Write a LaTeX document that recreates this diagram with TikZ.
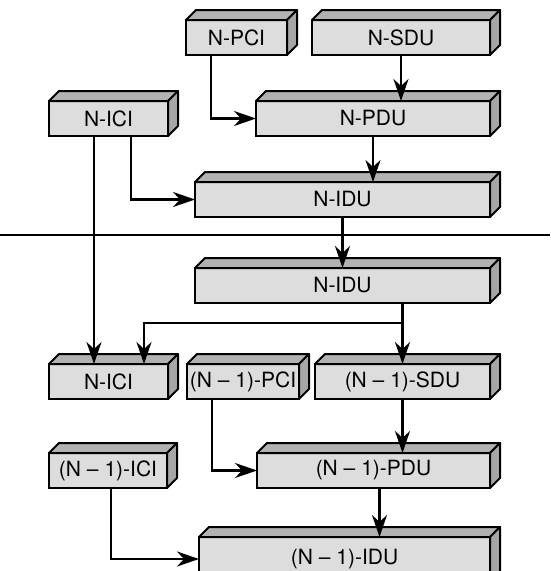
\documentclass[tikz,border=0pt]{standalone}
\usepackage{fontspec}
\setmainfont{TeX Gyre Heros}
\usetikzlibrary{arrows.meta}
\definecolor{frontgray}{RGB}{221,221,221}
\definecolor{topgray}{RGB}{178,178,178}
\definecolor{sidegray}{RGB}{166,166,166}
\tikzset{
  slab/.style={draw, fill=frontgray, line width=2pt, inner sep=0pt, outer sep=0pt,
    minimum height=35pt, anchor=north west, font=\fontsize{21}{24}\selectfont},
  topface/.style={draw, fill=topgray, line width=2pt, line join=round},
  sideface/.style={draw, fill=sidegray, line width=2pt, line join=round},
  arr/.style={line width=2.2pt, -{Stealth[length=22pt,width=15pt,inset=7pt]}}
}
\begin{document}
\begin{tikzpicture}[x=1pt,y=-1pt]
\useasboundingbox (0,0) rectangle (550,571);

% уровень N
\node[slab, minimum width=101pt] (npci) at (186,20) {N-PCI};
\node[slab, minimum width=178pt] (nsdu) at (312,20) {N-SDU};
\node[slab, minimum width=234pt] (npdu) at (256,101) {N-PDU};
\node[slab, minimum width=119pt] (nicia) at (49,101) {N-ICI};
\node[slab, minimum width=295pt] (nidua) at (195,182) {N-IDU};

% граница
\draw[line width=2.2pt] (0,235) -- (550,235);

% уровень N-1
\node[slab, minimum width=295pt] (nidub) at (195,268) {N-IDU};
\node[slab, minimum width=119pt] (nicib) at (49,364) {N-ICI};
\node[slab, minimum width=112pt] (mpci) at (187,364) {(N -- 1)-PCI};
\node[slab, minimum width=175pt] (msdu) at (315,364) {(N -- 1)-SDU};
\node[slab, minimum width=233pt] (mpdu) at (257,453) {(N -- 1)-PDU};
\node[slab, minimum width=118pt] (mici) at (49,453) {(N -- 1)-ICI};
\node[slab, minimum width=291pt, minimum height=44pt] (midu) at (199,537) {(N -- 1)-IDU};

% объём
\foreach \b in {npci,nsdu,npdu,nicia,nidua,nidub,nicib,mpci,msdu,mpdu,mici,midu} {
  \draw[topface] (\b.north west) -- ++(10pt,10pt) -- ([shift={(10pt,10pt)}]\b.north east) -- (\b.north east) -- cycle;
  \draw[sideface] (\b.north east) -- ++(10pt,10pt) -- ([shift={(10pt,10pt)}]\b.south east) -- (\b.south east) -- cycle;
}

% стрелки
\draw[arr] (nsdu.south) -- (nsdu.south |- npdu.north);
\draw[arr] (npdu.south) -- (npdu.south |- nidua.north);
\draw[arr] ([xshift=25pt]npci.south west) |- (npdu.west);
\draw[arr] ([xshift=82pt]nicia.south west) |- (nidua.west);
\draw[arr] ([xshift=45pt]nicia.south west) -- ([xshift=45pt]nicib.north west);
\draw[arr] (nidua.south) -- (nidua.south |- nidub.north);
\path (nidub.south -| msdu.north) ++(0,20) coordinate (split);
\draw[arr] (nidub.south -| msdu.north) -- (msdu.north);
\draw[arr] (split) -| ([xshift=95pt]nicib.north west);
\draw[arr] ([xshift=25pt]mpci.south west) |- (mpdu.west);
\draw[arr] (msdu.south) -- (msdu.south |- mpdu.north);
\draw[arr] ([xshift=6pt]mpdu.south) -- ([xshift=35pt]midu.north);
\draw[arr] ([xshift=62pt]mici.south west) |- (midu.west);
\end{tikzpicture}
\end{document}
